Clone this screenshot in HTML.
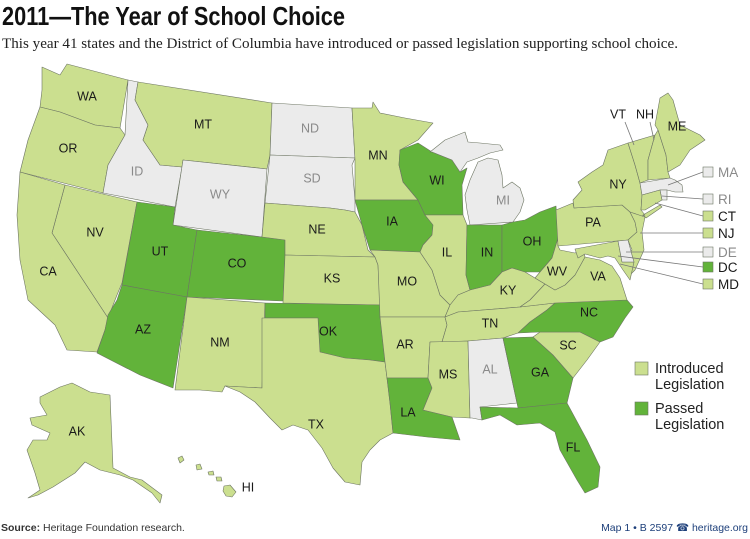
<!DOCTYPE html>
<html><head><meta charset="utf-8"><style>
body{margin:0;background:#fff;width:750px;height:539px;overflow:hidden}
svg{display:block}
.st{stroke:#6d7563;stroke-width:0.6;stroke-linejoin:round}
.lb{font-family:"Liberation Sans",sans-serif;font-size:12.5px;text-anchor:middle;dominant-baseline:middle}
</style></head><body>
<svg id="map" width="750" height="539" viewBox="0 0 750 539">
<text x="2" y="25" font-family="'Liberation Sans Narrow','Liberation Sans',sans-serif" font-weight="bold" font-size="26" textLength="343" lengthAdjust="spacingAndGlyphs" fill="#111">2011—The Year of School Choice</text>
<text x="2" y="48" font-family="'Liberation Serif',serif" font-size="15" textLength="676" lengthAdjust="spacingAndGlyphs" fill="#222">This year 41 states and the District of Columbia have introduced or passed legislation supporting school choice.</text>
<g id="states"></g>
<g id="labels"></g>
<g id="leaders" stroke="#777" stroke-width="0.8" fill="none">
<line x1="625" y1="122" x2="634" y2="145"/><line x1="650" y1="122" x2="654" y2="140"/>
<line x1="668" y1="185" x2="703" y2="172"/><line x1="662" y1="196" x2="703" y2="199"/>
<line x1="655" y1="203" x2="703" y2="216"/><line x1="640" y1="233" x2="703" y2="233"/>
<line x1="626" y1="252" x2="703" y2="252"/><line x1="618" y1="256" x2="703" y2="267"/>
<line x1="620" y1="264" x2="703" y2="284"/>
</g>
<g id="eastlegend"></g>
<g font-family="'Liberation Sans',sans-serif" font-size="14.5" fill="#222">
<rect x="635" y="362" width="13" height="13" fill="#cbdf8f" stroke="#6d7563" stroke-width="0.6"/>
<text x="655" y="373">Introduced</text>
<text x="655" y="389">Legislation</text>
<rect x="635" y="402" width="13" height="13" fill="#62b33a" stroke="#6d7563" stroke-width="0.6"/>
<text x="655" y="413">Passed</text>
<text x="655" y="429">Legislation</text>
</g>
<text x="1" y="531" font-family="'Liberation Sans',sans-serif" font-size="10.5" fill="#333"><tspan font-weight="bold">Source:</tspan> Heritage Foundation research.</text>
<text x="748" y="531" text-anchor="end" font-family="'Liberation Sans',sans-serif" font-size="10.5" fill="#1d3f7a">Map 1 • B 2597 ☎ heritage.org</text>
</svg>
<script>
const C={I:'#cbdf8f',P:'#62b33a',N:'#ebebeb'};
const stateCodes=['WA','OR','ID','MT','WY','NV','CA','UT','CO','AZ','NM','ND','SD','NE','KS','OK','TX','MN','IA','MO','AR','LA','WI','IL','MI','IN','OH','KY','TN','MS','AL','GA','FL','SC','NC','VA','WV','PA','NY','VT','NH','ME','MA','RI','CT','NJ','MD','DE','AK','HI'];
const stateStatus={WA:'I',OR:'I',ID:'N',MT:'I',WY:'N',NV:'I',CA:'I',UT:'P',CO:'P',AZ:'P',NM:'I',ND:'N',SD:'N',NE:'I',KS:'I',OK:'P',TX:'I',MN:'I',IA:'P',MO:'I',AR:'I',LA:'P',WI:'P',IL:'I',MI:'N',IN:'P',OH:'P',KY:'I',TN:'I',MS:'I',AL:'N',GA:'P',FL:'P',SC:'I',NC:'P',VA:'I',WV:'I',PA:'I',NY:'I',VT:'I',NH:'I',ME:'I',MA:'N',RI:'N',CT:'I',NJ:'I',MD:'I',DE:'N',DC:'P',AK:'I',HI:'I'};
const shapes={
WA:'42,67 60,75 67,64 128,80 120,128 95,125 60,112 40,107 42,90',
OR:'40,107 60,112 95,125 120,128 125,135 108,165 103,193 20,172 28,140',
ID:'128,80 138,82 135,100 148,125 143,140 160,165 182,167 175,207 103,193 108,165 125,135',
MT:'138,82 272,103 270,155 267,169 183,160 182,167 160,165 143,140 148,125 135,100',
WY:'183,160 267,169 262,237 173,225',
NV:'65,185 137,202 122,283 117,295 108,318 52,233',
CA:'20,172 65,185 52,233 108,318 105,330 97,352 67,350 55,325 28,300 20,260 17,215',
UT:'137,202 175,207 173,225 197,230 187,297 122,285',
CO:'197,230 262,237 285,240 285,255 283,301 187,297',
AZ:'122,285 187,297 173,388 140,375 97,353 105,330 108,315 117,300',
NM:'187,297 265,303 262,388 225,386 222,392 200,390 175,390',
ND:'272,103 352,108 355,158 270,155',
SD:'270,155 355,158 352,165 355,200 355,212 345,210 330,208 265,203',
NE:'265,203 330,208 345,210 355,212 362,225 368,250 375,257 285,255 285,240 262,237',
KS:'285,255 375,257 378,265 380,305 283,303',
OK:'265,303 380,305 380,317 385,362 370,360 345,358 320,352 318,318 265,318',
TX:'262,318 318,318 320,352 345,358 370,360 385,362 387,378 390,403 393,433 380,440 370,450 362,462 360,485 345,482 333,468 322,448 308,430 293,425 282,430 270,418 255,402 240,392 225,386 262,388',
MN:'352,108 372,108 373,102 380,113 405,118 433,123 418,140 400,150 399,165 403,182 418,200 355,200 355,160',
IA:'355,200 418,200 425,215 433,225 432,235 423,245 420,252 370,250 362,225',
MO:'370,250 420,252 432,270 440,295 450,305 445,317 380,317 378,265 375,257',
AR:'380,317 445,317 447,325 442,342 430,342 428,378 387,378 385,362',
LA:'387,378 428,378 432,388 423,410 452,417 460,440 427,437 393,433 390,403',
WI:'400,150 418,143 432,152 452,160 460,172 467,168 462,185 463,215 425,215 418,200 403,182 399,165',
IL:'425,215 463,215 467,225 466,275 470,290 458,295 450,305 440,295 432,270 420,252 423,245 432,235 433,225',
MI:'430,152 445,140 455,136 465,132 468,142 480,143 500,145 503,150 490,153 478,158 467,162 460,172 452,160 432,152 M478,162 488,158 498,160 502,175 503,188 512,182 520,188 524,200 520,212 513,222 470,225 467,210 465,195 470,180',
IN:'467,225 502,225 502,272 490,285 470,290 466,275',
OH:'502,225 513,222 525,220 540,212 556,206 558,238 552,258 540,272 525,272 512,268 502,272',
KY:'450,305 458,295 470,290 490,285 502,272 512,268 525,272 535,278 545,284 530,300 520,307 458,312 445,317',
TN:'445,317 458,312 520,307 555,303 547,310 530,322 518,333 503,338 468,341 442,342 447,325',
MS:'430,342 468,341 470,418 452,417 423,410 432,388 428,378',
AL:'468,341 503,338 517,403 480,407 482,420 472,418 470,418',
GA:'503,338 533,337 553,355 573,378 567,403 518,408 517,403',
FL:'480,407 518,408 567,403 587,440 600,467 598,487 585,493 577,480 560,450 555,432 540,423 517,425 500,415 482,420',
SC:'533,337 540,332 580,332 600,342 587,360 573,378 553,355',
NC:'518,333 530,322 547,310 555,303 627,300 633,307 625,318 613,337 600,342 580,332 540,332',
VA:'520,307 530,300 545,284 555,290 565,285 575,275 585,257 600,260 612,266 620,278 627,300 555,303',
WV:'558,238 558,246 560,250 575,253 583,249 585,257 575,275 565,285 555,290 545,284 535,278 540,272 552,258',
PA:'556,210 573,203 574,208 622,205 630,212 635,222 637,232 628,240 558,246',
NY:'574,208 573,200 582,190 578,182 592,172 603,165 608,150 628,143 635,165 640,183 642,195 641,210 645,215 636,218 630,212 622,205 M643,215 660,205 662,207 646,218',
VT:'628,143 655,135 648,160 648,180 640,183 635,165',
NH:'655,135 658,130 666,155 668,172 670,178 648,180 648,160',
ME:'660,98 668,93 673,100 680,125 700,135 705,140 690,150 680,165 668,172 666,155 658,130 655,125',
MA:'640,183 670,178 675,180 682,185 683,192 675,192 667,190 660,190 642,195',
RI:'660,190 667,190 667,200 662,200',
CT:'642,195 660,190 662,200 645,210 641,210',
NJ:'630,212 645,217 642,232 644,250 635,270 630,275 625,258 632,250 628,240 637,232 635,222',
MD:'575,249 618,241 622,262 634,262 630,280 623,270 615,258 608,256 600,258 585,254 578,258',
DE:'618,241 628,240 632,255 634,262 622,262',
AK:'40,397 60,387 72,383 90,392 110,395 113,468 130,477 142,480 162,495 160,503 152,493 133,480 120,475 100,470 85,462 75,473 53,487 38,495 28,498 40,490 35,473 27,450 33,440 47,440 50,433 32,425 30,418 47,415 40,403',
HI:'178,458 182,456 184,460 180,463 M196,465 200,464 202,469 197,470 M208,472 213,471 214,475 209,475 M216,477 221,477 222,481 217,481 M224,486 230,485 236,492 232,497 226,496 223,491'
};
const labelText=['WA','OR','ID','MT','WY','NV','UT','CO','CA','AZ','NM','ND','SD','MN','WI','MI','IA','NE','IL','IN','OH','KS','MO','KY','WV','TN','AR','MS','AL','GA','SC','NC','LA','FL','OK','TX','VT','NH','ME','NY','PA','VA','AK','HI'];
const labelPos={WA:[87,97],OR:[68,149],ID:[137,172],MT:[203,125],WY:[220,195],NV:[95,233],UT:[160,252],CO:[237,264],CA:[48,272],AZ:[143,330],NM:[220,343],ND:[310,129],SD:[312,179],MN:[378,156],WI:[437,181],MI:[503,201],IA:[392,222],NE:[317,230],IL:[447,253],IN:[487,253],OH:[532,242],KS:[332,279],MO:[407,282],KY:[508,291],WV:[557,272],TN:[490,324],AR:[405,345],MS:[448,375],AL:[490,370],GA:[540,373],SC:[568,346],NC:[589,313],LA:[408,413],FL:[573,448],OK:[328,332],TX:[316,425],VT:[618,115],NH:[645,115],ME:[677,127],NY:[618,185],PA:[593,223],VA:[598,277],AK:[77,432],HI:[248,488]};
const eastCodes=['MA','RI','CT','NJ','DE','DC','MD'];
const eastY=[172,199,216,233,252,267,284];
const NS='http://www.w3.org/2000/svg';
const gS=document.getElementById('states');
stateCodes.forEach(code=>{
  const d='M'+shapes[code].replace(/ M/g,' Z M')+' Z';
  const p=document.createElementNS(NS,'path');
  p.setAttribute('d',d);
  p.setAttribute('class','st');
  p.setAttribute('fill',C[stateStatus[code]]);
  
  
  gS.appendChild(p);
});
const gL=document.getElementById('labels');
labelText.forEach(code=>{
  const t=document.createElementNS(NS,'text');
  t.setAttribute('x',labelPos[code][0]);
  t.setAttribute('y',labelPos[code][1]);
  t.setAttribute('class','lb');
  t.setAttribute('fill',stateStatus[code]==='N'?'#8a8a8a':'#1a1a1a');
  t.textContent=code;
  
  
  gL.appendChild(t);
});
const gE=document.getElementById('eastlegend');
eastCodes.forEach((code,i)=>{
  const r=document.createElementNS(NS,'rect');
  r.setAttribute('x',703);r.setAttribute('y',eastY[i]-5);
  r.setAttribute('width',10);r.setAttribute('height',10);
  r.setAttribute('fill',C[stateStatus[code]]);
  r.setAttribute('stroke','#6d7563');r.setAttribute('stroke-width','0.6');
  
  
  gE.appendChild(r);
  const t=document.createElementNS(NS,'text');
  t.setAttribute('x',718);t.setAttribute('y',eastY[i]+5);
  t.setAttribute('font-family','Liberation Sans, sans-serif');
  t.setAttribute('font-size','13.5');
  t.setAttribute('fill',stateStatus[code]==='N'?'#8a8a8a':'#1a1a1a');
  t.textContent=code;
  
  
  gE.appendChild(t);
});
</script>
</body></html>
